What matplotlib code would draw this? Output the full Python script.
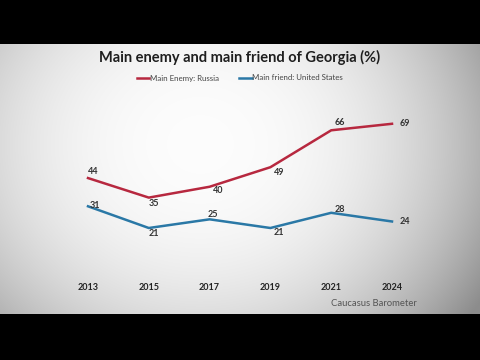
import numpy as np
import matplotlib
matplotlib.use("Agg")
import matplotlib.pyplot as plt

plt.rcParams["font.family"] = ["Lato", "DejaVu Sans"]

years = ["2013", "2015", "2017", "2019", "2021", "2024"]
enemy_russia = [44, 35, 40, 49, 66, 69]
friend_us = [31, 21, 25, 21, 28, 24]

red = "#b7283f"
blue = "#2a78a6"

fig = plt.figure(figsize=(4.8, 3.6), dpi=100)
fig.patch.set_facecolor("black")

# background vignette
bg = fig.add_axes([0, 46/360, 1, 1 - 90/360])
H, W = 270, 480
yy, xx = np.mgrid[0:H, 0:W]
cx, cy = 200, 100
r = np.sqrt(((xx - cx) / 320.0) ** 2 + ((yy - cy) / 280.0) ** 2)
val = 0.99 - 0.40 * np.clip(r, 0, 1.3) ** 2.4
val = np.clip(val, 0.55, 1.0)
bg.imshow(np.dstack([val, val, val]), aspect="auto", extent=[0, 1, 0, 1])
bg.axis("off")

ax = fig.add_axes([57.6/480, 0.240, (422.4-57.6)/480, 0.7225-0.240])
ax.patch.set_alpha(0)
x = np.arange(len(years))
ax.plot(x, enemy_russia, color=red, lw=1.8, label="Main Enemy: Russia")
ax.plot(x, friend_us, color=blue, lw=1.8, label="Main friend: United States")
ax.set_xlim(-0.5, 5.5)
ax.set_ylim(0, 80)
ax.set_yticks([])
ax.set_xticks(x)
ax.set_xticklabels(years, fontsize=6.5, fontweight="bold", color="#222222")
ax.tick_params(axis="x", length=0, pad=7)
for s in ax.spines.values():
    s.set_visible(False)

lab_kw = dict(fontsize=6.5, color="#333333", fontweight="bold")
# (dx, dy, ha, va) offsets in data units
offs_e = [(0.0, 1.0, "left", "bottom"), (0.0, -0.5, "left", "top"), (0.05, 0.5, "left", "top"),
          (0.05, -0.5, "left", "top"), (0.05, 1.5, "left", "bottom"), (0.12, 0, "left", "center")]
for i, (v, o) in enumerate(zip(enemy_russia, offs_e)):
    ax.text(i + o[0], v + o[1], str(v), ha=o[2], va=o[3], **lab_kw)
offs_f = [(0.02, 0.5, "left", "center"), (0.0, -0.5, "left", "top"), (0.05, 0.0, "center", "bottom"),
          (0.05, 0.0, "left", "top"), (0.05, -0.5, "left", "bottom"), (0.12, 0, "left", "center")]
for i, (v, o) in enumerate(zip(friend_us, offs_f)):
    ax.text(i + o[0], v + o[1], str(v), ha=o[2], va=o[3], **lab_kw)

fig.text(0.5, 1 - 57/360, "Main enemy and main friend of Georgia (%)", ha="center", va="center",
         fontsize=10.5, fontweight="bold", color="#1e1e1e")
leg = fig.legend(loc="center", bbox_to_anchor=(0.5, 1 - 78/360), ncol=2, frameon=False,
                 fontsize=5.7, handlelength=1.6, columnspacing=2.5, handletextpad=0.1)
for t in leg.get_texts():
    t.set_color("#444444")

fig.text(374/480, 1 - 304/360, "Caucasus Barometer", ha="center", va="center",
         fontsize=6.8, color="#555555")

fig.savefig("out.png", dpi=100, facecolor="black")
